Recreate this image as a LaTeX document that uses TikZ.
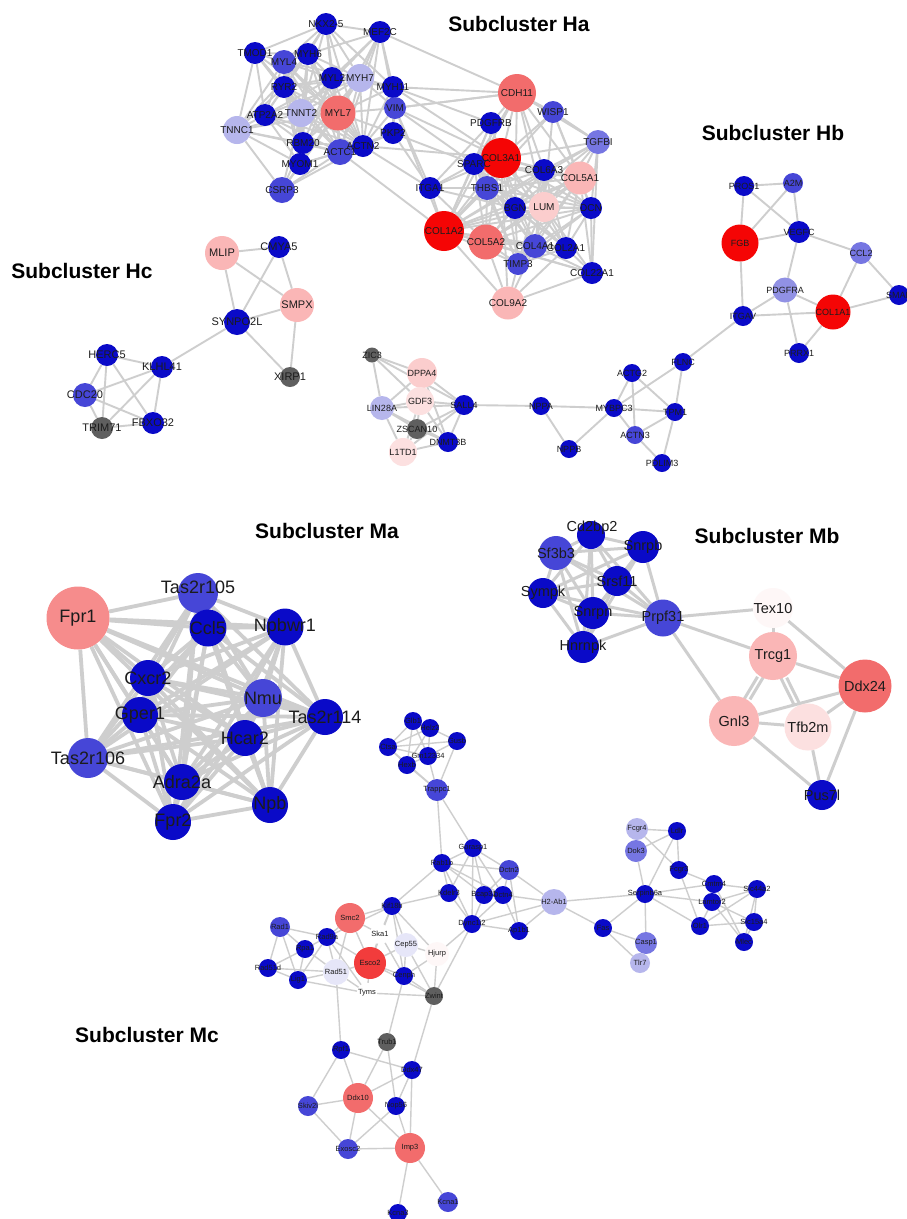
\documentclass[tikz,border=0pt]{standalone}
\usepackage{fontspec}
\setmainfont{Liberation Sans}
\pgfdeclarelayer{bg}
\pgfdeclarelayer{edges}
\pgfdeclarelayer{circles}
\pgfsetlayers{bg,edges,circles,main}
\definecolor{dblue}{RGB}{10,10,200}
\definecolor{mblue}{RGB}{70,70,215}
\definecolor{lblue}{RGB}{118,118,226}
\definecolor{lavb}{RGB}{145,145,228}
\definecolor{lav}{RGB}{182,182,236}
\definecolor{vlav}{RGB}{230,230,248}
\definecolor{red1}{RGB}{245,5,5}
\definecolor{red2}{RGB}{242,60,60}
\definecolor{salm}{RGB}{242,108,108}
\definecolor{pink1}{RGB}{246,140,140}
\definecolor{pink2}{RGB}{250,182,182}
\definecolor{pink3}{RGB}{251,205,205}
\definecolor{pink4}{RGB}{252,224,224}
\definecolor{wpink}{RGB}{254,247,247}
\definecolor{wnode}{RGB}{255,255,255}
\definecolor{gnode}{RGB}{95,95,95}
\definecolor{edgec}{RGB}{206,206,206}
\definecolor{txt}{RGB}{28,28,28}
\tikzset{
  gn/.style={circle,inner sep=0pt,draw=none},
  lab/.style={inner sep=0pt,text=txt},
  title/.style={inner sep=0pt,text=black,font=\bfseries\fontsize{21}{21}\selectfont},
  eHa/.style={draw=edgec,line width=1.9pt},
  eHb/.style={draw=edgec,line width=1.9pt},
  eMa/.style={draw=edgec,line width=3.8pt},
  eMb/.style={draw=edgec,line width=3pt},
  eMc/.style={draw=edgec,line width=1.4pt},
}
\newcommand\Gnode[8][0,0]{%
  \begin{pgfonlayer}{circles}\node[gn,minimum size=#5pt,fill=#6] (#2) at (#3,#4) {};\end{pgfonlayer}%
  \node[lab,font=\fontsize{#8}{#8}\selectfont,shift={(#1)}] at (#3,#4) {#7};}
\newcommand\hub[3][eHa]{\foreach \b in {#3} {\draw[#1] (#2)--(\b);}}
\newcommand\clique[2]{\foreach \a [count=\i] in {#1} {\foreach \b [count=\j] in {#1} {\ifnum\j>\i \draw[#2] (\a)--(\b);\fi}}}
\begin{document}
\begin{tikzpicture}[x=1pt,y=-1pt]
\begin{pgfonlayer}{bg}
\fill[white] (0,0) rectangle (907,1219);
\end{pgfonlayer}
\useasboundingbox (0,0) rectangle (907,1219);
% ---------------- titles
\node[title] (tHa) at (519,24) {Subcluster Ha};
\node[title] (tHb) at (773,133) {Subcluster Hb};
\node[title] (tHc) at (82,271) {Subcluster Hc};
\node[title] (tMa) at (327,531) {Subcluster Ma};
\node[title] (tMb) at (767,536) {Subcluster Mb};
\node[title] (tMc) at (147,1035) {Subcluster Mc};
% ---------------- Ha
\Gnode{NKX25}{326}{24}{22}{dblue}{NKX2-5}{10}
\Gnode{MEF2C}{380}{32}{22}{dblue}{MEF2C}{10}
\Gnode{TMOD1}{255}{53}{22}{dblue}{TMOD1}{10}
\Gnode{MYL4}{284}{62}{24}{mblue}{MYL4}{10}
\Gnode{MYH6}{308}{54}{22}{dblue}{MYH6}{10}
\Gnode{MYL2}{332}{78}{22}{dblue}{MYL2}{10}
\Gnode{MYH7}{360}{78}{28}{lav}{MYH7}{10}
\Gnode{RYR2}{284}{87}{22}{dblue}{RYR2}{10}
\Gnode{MYH11}{393}{87}{22}{dblue}{MYH11}{10}
\Gnode{ATP2A2}{265}{115}{22}{dblue}{ATP2A2}{10}
\Gnode{TNNT2}{301}{113}{28}{lav}{TNNT2}{10}
\Gnode{MYL7}{338}{113}{35}{salm}{MYL7}{10}
\Gnode{VIM}{395}{108}{22}{mblue}{VIM}{10}
\Gnode{TNNC1}{237}{130}{28}{lav}{TNNC1}{10}
\Gnode{PKP2}{393}{133}{22}{dblue}{PKP2}{10}
\Gnode{RBM20}{303}{143}{22}{dblue}{RBM20}{10}
\Gnode{ACTN2}{363}{146}{22}{dblue}{ACTN2}{10}
\Gnode{ACTC1}{340}{152}{26}{mblue}{ACTC1}{10}
\Gnode{MYOM1}{300}{164}{22}{dblue}{MYOM1}{10}
\Gnode{CSRP3}{282}{190}{26}{mblue}{CSRP3}{10}
\Gnode{CDH11}{517}{93}{38}{salm}{CDH11}{10}
\Gnode{WISP1}{553}{112}{22}{mblue}{WISP1}{10}
\Gnode{PDGFRB}{491}{123}{22}{dblue}{PDGFRB}{10}
\Gnode{TGFBI}{598}{142}{24}{lblue}{TGFBI}{10}
\Gnode{COL3A1}{501}{158}{40}{red1}{COL3A1}{10}
\Gnode{SPARC}{474}{164}{22}{dblue}{SPARC}{10}
\Gnode{COL6A3}{544}{170}{22}{dblue}{COL6A3}{10}
\Gnode{COL5A1}{580}{178}{33}{pink2}{COL5A1}{10}
\Gnode{ITGA1}{430}{188}{22}{dblue}{ITGA1}{10}
\Gnode{THBS1}{487}{188}{24}{mblue}{THBS1}{10}
\Gnode{BGN}{515}{208}{22}{dblue}{BGN}{10}
\Gnode{LUM}{544}{207}{30}{pink3}{LUM}{10}
\Gnode{DCN}{591}{208}{22}{dblue}{DCN}{10}
\Gnode{COL1A2}{444}{231}{40}{red1}{COL1A2}{10}
\Gnode{COL5A2}{486}{242}{35}{salm}{COL5A2}{10}
\Gnode{COL4A1}{535}{246}{24}{mblue}{COL4A1}{10}
\Gnode{COL2A1}{566}{248}{22}{dblue}{COL2A1}{10}
\Gnode{TIMP3}{518}{264}{22}{mblue}{TIMP3}{10}
\Gnode{COL22A1}{592}{273}{22}{dblue}{COL22A1}{10}
\Gnode{COL9A2}{508}{303}{33}{pink2}{COL9A2}{10}
% ---------------- Hb
\Gnode{PROS1}{744}{186}{20}{dblue}{PROS1}{9}
\Gnode{A2M}{793}{183}{20}{mblue}{A2M}{9}
\Gnode{FGB}{740}{243}{37}{red1}{FGB}{9}
\Gnode{VEGFC}{799}{232}{22}{dblue}{VEGFC}{9}
\Gnode{CCL2}{861}{253}{22}{lblue}{CCL2}{9}
\Gnode{PDGFRA}{785}{290}{25}{lavb}{PDGFRA}{9}
\Gnode{SMAD}{899}{295}{20}{dblue}{SMAD}{9}
\Gnode{ITGAV}{743}{316}{20}{dblue}{ITGAV}{9}
\Gnode{COL1A1}{833}{312}{35}{red1}{COL1A1}{9}
\Gnode{PRRX1}{799}{353}{20}{dblue}{PRRX1}{9}
\Gnode{FLNC}{683}{362}{18}{dblue}{FLNC}{9}
% ---------------- Hc
\Gnode{MLIP}{222}{253}{34}{pink2}{MLIP}{11}
\Gnode{CMYA5}{279}{247}{22}{dblue}{CMYA5}{11}
\Gnode{SMPX}{297}{305}{34}{pink2}{SMPX}{11}
\Gnode{SYNPO2L}{237}{322}{26}{dblue}{SYNPO2L}{11}
\Gnode{XIRP1}{290}{377}{20}{gnode}{XIRP1}{11}
\Gnode{HERC5}{107}{355}{22}{dblue}{HERC5}{11}
\Gnode{KLHL41}{162}{367}{22}{dblue}{KLHL41}{11}
\Gnode{CDC20}{85}{395}{24}{mblue}{CDC20}{11}
\Gnode{TRIM71}{102}{428}{22}{gnode}{TRIM71}{11}
\Gnode{FBXO32}{153}{423}{22}{dblue}{FBXO32}{11}
% ---------------- middle row
\Gnode{ZIC3}{372}{355}{15}{gnode}{ZIC3}{9}
\Gnode{DPPA4}{422}{373}{30}{pink3}{DPPA4}{9}
\Gnode{GDF3}{420}{401}{28}{pink4}{GDF3}{9}
\Gnode{LIN28A}{382}{408}{24}{lav}{LIN28A}{9}
\Gnode{SALL4}{464}{405}{20}{dblue}{SALL4}{9}
\Gnode{ZSCAN10}{417}{429}{20}{gnode}{ZSCAN10}{9}
\Gnode{DNMT3B}{448}{442}{20}{dblue}{DNMT3B}{9}
\Gnode{L1TD1}{403}{452}{28}{pink4}{L1TD1}{9}
\Gnode{NPPA}{541}{406}{18}{dblue}{NPPA}{9}
\Gnode{NPPB}{569}{449}{18}{dblue}{NPPB}{9}
\Gnode{MYBPC3}{614}{408}{18}{dblue}{MYBPC3}{9}
\Gnode{ACTG2}{632}{373}{18}{dblue}{ACTG2}{9}
\Gnode{TPM1}{675}{412}{18}{dblue}{TPM1}{9}
\Gnode{ACTN3}{635}{435}{18}{mblue}{ACTN3}{9}
\Gnode{PDLIM3}{662}{463}{18}{dblue}{PDLIM3}{9}
% ---------------- Ma
\Gnode{Fpr1}{78}{618}{63}{pink1}{Fpr1}{18}
\Gnode[0,-6]{Tas2r105}{198}{593}{40}{mblue}{Tas2r105}{18}
\Gnode{Ccl5}{208}{628}{37}{dblue}{Ccl5}{18}
\Gnode{Npbwr1}{285}{627}{37}{dblue}{Npbwr1}{18}
\Gnode{Cxcr2}{148}{678}{36}{dblue}{Cxcr2}{18}
\Gnode{Nmu}{263}{698}{38}{mblue}{Nmu}{18}
\Gnode{Gper1}{140}{715}{36}{dblue}{Gper1}{18}
\Gnode{Tas2r114}{325}{717}{36}{dblue}{Tas2r114}{18}
\Gnode{Hcar2}{245}{738}{36}{dblue}{Hcar2}{18}
\Gnode{Tas2r106}{88}{758}{40}{mblue}{Tas2r106}{18}
\Gnode{Adra2a}{182}{782}{36}{dblue}{Adra2a}{18}
\Gnode{Fpr2}{173}{822}{36}{dblue}{Fpr2}{18}
\Gnode{Npb}{270}{805}{36}{dblue}{Npb}{18}
% ---------------- Mb
\Gnode[1,-7]{Cd2bp2}{591}{535}{28}{dblue}{Cd2bp2}{14.5}
\Gnode{Sf3b3}{556}{553}{34}{mblue}{Sf3b3}{14.5}
\Gnode{Snrpb}{643}{547}{32}{dblue}{Snrpb}{14.5}
\Gnode{Srsf11}{617}{581}{30}{dblue}{Srsf11}{14.5}
\Gnode{Sympk}{543}{593}{30}{dblue}{Sympk}{14.5}
\Gnode{Snrpn}{593}{613}{32}{dblue}{Snrpn}{14.5}
\Gnode{Prpf31}{663}{618}{37}{mblue}{Prpf31}{14.5}
\Gnode{Hnrnpk}{583}{647}{32}{dblue}{Hnrnpk}{14.5}
\Gnode{Tex10}{773}{608}{40}{wpink}{Tex10}{14.5}
\Gnode{Trcg1}{773}{656}{48}{pink2}{Trcg1}{14.5}
\Gnode{Ddx24}{865}{686}{53}{salm}{Ddx24}{14.5}
\Gnode{Gnl3}{734}{721}{50}{pink2}{Gnl3}{14.5}
\Gnode{Tfb2m}{808}{727}{47}{pink4}{Tfb2m}{14.5}
\Gnode{Pus7l}{822}{795}{30}{dblue}{Pus7l}{14.5}
% ---------------- Mc
\Gnode{Glb1}{413}{721}{18}{dblue}{Glb1}{7.5}
\Gnode{Helz2}{430}{728}{18}{dblue}{Helz2}{7.5}
\Gnode{Gusb}{457}{741}{18}{dblue}{Gusb}{7.5}
\Gnode{Ctsa}{388}{747}{18}{dblue}{Ctsa}{7.5}
\Gnode{Gm12334}{428}{756}{18}{dblue}{Gm12334}{7.5}
\Gnode{Hexb}{407}{765}{18}{dblue}{Hexb}{7.5}
\Gnode{Trappc1}{437}{790}{22}{mblue}{Trappc1}{7.5}
\Gnode{Gorasp1}{473}{848}{18}{dblue}{Gorasp1}{7.5}
\Gnode{Rab1b}{442}{863}{18}{dblue}{Rab1b}{7.5}
\Gnode{Dctn2}{509}{870}{20}{mblue}{Dctn2}{7.5}
\Gnode{Kdelr3}{449}{893}{18}{dblue}{Kdelr3}{7.5}
\Gnode{Bcap31}{484}{895}{18}{dblue}{Bcap31}{7.5}
\Gnode{Dctn4}{503}{895}{18}{dblue}{Dctn4}{7.5}
\Gnode{H2Ab1}{554}{902}{26}{lav}{H2-Ab1}{7.5}
\Gnode{Kif18b}{392}{906}{18}{dblue}{Kif18b}{7.5}
\Gnode{Dync1i2}{472}{924}{18}{dblue}{Dync1i2}{7.5}
\Gnode{Ap1b1}{519}{931}{18}{dblue}{Ap1b1}{7.5}
\Gnode{Ska1}{380}{934}{20}{wnode}{Ska1}{7.5}
\Gnode{Cep55}{406}{945}{24}{vlav}{Cep55}{7.5}
\Gnode{Hjurp}{437}{954}{24}{wpink}{Hjurp}{7.5}
\Gnode{Rad1}{280}{927}{20}{mblue}{Rad1}{7.5}
\Gnode{Smc2}{350}{918}{30}{salm}{Smc2}{7.5}
\Gnode{Rad9a}{327}{937}{18}{dblue}{Rad9a}{7.5}
\Gnode{Rpa1}{305}{949}{18}{dblue}{Rpa1}{7.5}
\Gnode{Rad51d}{268}{968}{18}{dblue}{Rad51d}{7.5}
\Gnode{Lig1}{298}{980}{18}{dblue}{Lig1}{7.5}
\Gnode{Rad51}{336}{972}{26}{vlav}{Rad51}{7.5}
\Gnode{Esco2}{370}{963}{32}{red2}{Esco2}{7.5}
\Gnode{Cenph}{404}{976}{18}{dblue}{Cenph}{7.5}
\Gnode{Tyms}{367}{993}{20}{wnode}{Tyms}{7.5}
\Gnode{Zwint}{434}{996}{18}{gnode}{Zwint}{7.5}
\Gnode{Rpf1}{341}{1050}{18}{dblue}{Rpf1}{7.5}
\Gnode{Trub1}{387}{1042}{18}{gnode}{Trub1}{7.5}
\Gnode{Ddx47}{412}{1070}{18}{dblue}{Ddx47}{7.5}
\Gnode{Skiv2l}{308}{1106}{20}{mblue}{Skiv2l}{7.5}
\Gnode{Ddx10}{358}{1098}{30}{salm}{Ddx10}{7.5}
\Gnode{Nop56}{396}{1106}{18}{dblue}{Nop56}{7.5}
\Gnode{Exosc2}{348}{1149}{20}{mblue}{Exosc2}{7.5}
\Gnode{Imp3}{410}{1148}{30}{salm}{Imp3}{7.5}
\Gnode{Kcna1}{448}{1202}{20}{mblue}{Kcna1}{7.5}
\Gnode{Kcna3}{398}{1213}{18}{dblue}{Kcna3}{7.5}
\Gnode{Fcgr4}{637}{829}{22}{lav}{Fcgr4}{7.5}
\Gnode{Ldlr}{677}{831}{18}{dblue}{Ldlr}{7.5}
\Gnode{Dok3}{636}{851}{22}{lblue}{Dok3}{7.5}
\Gnode{Fcgr3}{679}{870}{18}{dblue}{Fcgr3}{7.5}
\Gnode{Serpinb6a}{645}{894}{18}{dblue}{Serpinb6a}{7.5}
\Gnode{Cmtm4}{714}{884}{18}{dblue}{Cmtm4}{7.5}
\Gnode{Lamtor2}{712}{902}{18}{dblue}{Lamtor2}{7.5}
\Gnode{Slc44a2}{757}{889}{18}{dblue}{Slc44a2}{7.5}
\Gnode{Slc15a4}{754}{922}{18}{dblue}{Slc15a4}{7.5}
\Gnode{Olr1}{700}{926}{18}{dblue}{Olr1}{7.5}
\Gnode{Mlec}{744}{942}{18}{dblue}{Mlec}{7.5}
\Gnode{Fas}{603}{928}{18}{dblue}{Fas}{7.5}
\Gnode{Casp1}{646}{943}{22}{lblue}{Casp1}{7.5}
\Gnode{Tlr7}{640}{963}{20}{lav}{Tlr7}{7.5}
% ================= edges
\begin{pgfonlayer}{edges}
% Ha cardiac
\clique{MYL4,MYH6,MYL2,MYH7,RYR2,ATP2A2,TNNT2,MYL7,ACTC1,ACTN2,RBM20,MYOM1}{eHa}
\hub{NKX25}{MYL4,MYH6,MYL2,MYH7,MEF2C,MYL7,TNNT2,ACTC1,MYH11,RYR2,TMOD1,ACTN2}
\hub{MEF2C}{MYH6,MYL2,MYH7,MYH11,MYL7,VIM,ACTC1,ACTN2,CDH11,TNNT2}
\hub{TMOD1}{MYL4,RYR2,ATP2A2,TNNT2,MYL7,TNNC1,MYH6,ACTC1}
\hub{MYH11}{VIM,MYL7,MYH7,ACTN2,PKP2,CDH11,PDGFRB,COL3A1,MYL2}
\hub{VIM}{MYL7,PKP2,ACTN2,CDH11,COL3A1,SPARC,ITGA1,MYH7,COL1A2}
\hub{PKP2}{ACTN2,MYL7,ACTC1,ITGA1,SPARC}
\hub{TNNC1}{ATP2A2,TNNT2,MYL7,RBM20,ACTC1,CSRP3,MYOM1,RYR2,MYH6,MYL4}
\hub{CSRP3}{MYOM1,RBM20,ACTC1,TNNT2,ACTN2,MYL7}
\hub{ACTC1}{COL1A2}
\hub{ACTN2}{ITGA1,COL3A1}
% Ha collagen
\clique{COL3A1,COL1A2,COL5A1,COL5A2,LUM,BGN,DCN,COL6A3,COL4A1,COL2A1,THBS1,SPARC,TIMP3}{eHa}
\hub{CDH11}{COL3A1,COL1A2,COL5A1,WISP1,PDGFRB,SPARC,LUM,BGN,COL6A3,TGFBI,VIM}
\hub{WISP1}{COL3A1,COL1A2,COL5A1,LUM,DCN,TGFBI}
\hub{PDGFRB}{COL3A1,COL1A2,SPARC,ITGA1,THBS1}
\hub{TGFBI}{COL3A1,COL5A1,COL1A2,DCN,LUM,BGN,COL22A1,COL6A3}
\hub{ITGA1}{COL1A2,COL3A1,COL5A2,THBS1,SPARC,BGN}
\hub{COL22A1}{COL1A2,COL5A1,COL2A1,COL4A1,DCN,LUM,COL9A2,COL5A2}
\hub{COL9A2}{COL1A2,COL5A2,COL2A1,TIMP3,COL4A1,COL3A1}
% Hb
\hub[eHb]{PROS1}{A2M,FGB,VEGFC}
\hub[eHb]{A2M}{FGB,VEGFC}
\hub[eHb]{FGB}{VEGFC,ITGAV}
\hub[eHb]{VEGFC}{CCL2,PDGFRA}
\hub[eHb]{CCL2}{COL1A1,SMAD}
\hub[eHb]{COL1A1}{SMAD,PDGFRA,ITGAV,PRRX1}
\hub[eHb]{PDGFRA}{ITGAV,PRRX1}
\hub[eHb]{ITGAV}{FLNC}
% Hc
\hub[eHb]{MLIP}{CMYA5,SMPX,SYNPO2L}
\hub[eHb]{CMYA5}{SYNPO2L,SMPX}
\hub[eHb]{SYNPO2L}{SMPX,XIRP1,KLHL41}
\hub[eHb]{SMPX}{XIRP1}
\clique{HERC5,KLHL41,CDC20,TRIM71,FBXO32}{eHb}
% middle row
\hub[eHb]{ZIC3}{DPPA4,LIN28A,GDF3,SALL4}
\hub[eHb]{DPPA4}{GDF3,SALL4,LIN28A,DNMT3B}
\hub[eHb]{LIN28A}{GDF3,SALL4,L1TD1,ZSCAN10,DNMT3B}
\hub[eHb]{GDF3}{SALL4,ZSCAN10,L1TD1,DNMT3B}
\hub[eHb]{SALL4}{ZSCAN10,DNMT3B,L1TD1,NPPA}
\hub[eHb]{ZSCAN10}{L1TD1,DNMT3B}
\hub[eHb]{L1TD1}{DNMT3B}
\hub[eHb]{NPPA}{MYBPC3,NPPB}
\hub[eHb]{NPPB}{MYBPC3}
\hub[eHb]{MYBPC3}{FLNC,ACTG2,TPM1,ACTN3}
\hub[eHb]{ACTG2}{ACTN3,TPM1}
\hub[eHb]{FLNC}{TPM1}
\hub[eHb]{TPM1}{ACTN3,PDLIM3}
\hub[eHb]{ACTN3}{PDLIM3}
% Ma
\clique{Fpr1,Tas2r105,Ccl5,Npbwr1,Cxcr2,Nmu,Gper1,Tas2r114,Hcar2,Tas2r106,Adra2a,Fpr2,Npb}{eMa}
% Mb
\clique{Cd2bp2,Sf3b3,Snrpb,Srsf11,Sympk,Snrpn,Prpf31,Hnrnpk}{eMb}
\hub[eMb]{Prpf31}{Tex10,Trcg1,Gnl3}
\hub[eMb]{Tex10}{Ddx24,Trcg1}
\hub[eMb]{Trcg1}{Ddx24}
\draw[eMb,transform canvas={xshift=-3pt}] (Trcg1)--(Gnl3);
\draw[eMb,transform canvas={xshift=3pt}] (Trcg1)--(Gnl3);
\draw[eMb,transform canvas={xshift=-3pt}] (Trcg1)--(Tfb2m);
\draw[eMb,transform canvas={xshift=3pt}] (Trcg1)--(Tfb2m);
\hub[eMb]{Gnl3}{Ddx24,Tfb2m,Pus7l}
\hub[eMb]{Tfb2m}{Ddx24,Pus7l}
\hub[eMb]{Ddx24}{Pus7l}
% Mc top
\hub[eMc]{Glb1}{Helz2,Ctsa,Gm12334,Hexb}
\hub[eMc]{Helz2}{Gusb,Ctsa,Gm12334,Hexb}
\hub[eMc]{Gusb}{Gm12334,Ctsa,Trappc1}
\hub[eMc]{Ctsa}{Gm12334,Hexb,Trappc1}
\hub[eMc]{Gm12334}{Hexb,Trappc1}
\hub[eMc]{Hexb}{Trappc1}
\hub[eMc]{Trappc1}{Rab1b,Gorasp1}
% Mc middle
\hub[eMc]{Gorasp1}{Rab1b,Dctn2,Kdelr3,Bcap31,Dctn4,Dync1i2}
\hub[eMc]{Rab1b}{Kdelr3,Kif18b,Dync1i2,Dctn2,Bcap31,Dctn4}
\hub[eMc]{Dctn2}{Bcap31,Dctn4,H2Ab1,Ap1b1}
\hub[eMc]{Kdelr3}{Kif18b,Dync1i2}
\hub[eMc]{Bcap31}{Dync1i2,Dctn4}
\hub[eMc]{Dctn4}{Dync1i2,Ap1b1,H2Ab1}
\hub[eMc]{Dync1i2}{H2Ab1,Ap1b1,Hjurp,Zwint}
\hub[eMc]{Ap1b1}{H2Ab1}
\hub[eMc]{H2Ab1}{Serpinb6a,Fas}
\hub[eMc]{Kif18b}{Ska1,Cep55,Smc2,Rad9a,Esco2,Cenph,Hjurp}
% Mc left
\hub[eMc]{Smc2}{Rad9a,Esco2,Rad51,Ska1}
\hub[eMc]{Rad1}{Rad9a,Rad51d,Rpa1,Lig1}
\hub[eMc]{Rad9a}{Rpa1,Rad51,Esco2,Lig1,Tyms}
\hub[eMc]{Rpa1}{Rad51d,Lig1,Rad51}
\hub[eMc]{Rad51d}{Rad51,Lig1}
\hub[eMc]{Lig1}{Rad51,Tyms}
\hub[eMc]{Rad51}{Esco2,Tyms,Rpf1}
\hub[eMc]{Esco2}{Cenph,Cep55,Tyms,Zwint,Ska1}
\hub[eMc]{Cep55}{Hjurp,Cenph,Zwint}
\hub[eMc]{Cenph}{Hjurp,Zwint,Ska1,Trub1}
\hub[eMc]{Hjurp}{Zwint}
\hub[eMc]{Tyms}{Zwint}
\hub[eMc]{Zwint}{Ddx47}
% Mc bottom
\hub[eMc]{Rpf1}{Ddx47,Ddx10,Skiv2l}
\hub[eMc]{Trub1}{Ddx10,Nop56}
\hub[eMc]{Ddx47}{Ddx10,Nop56,Imp3}
\hub[eMc]{Skiv2l}{Ddx10,Exosc2}
\hub[eMc]{Ddx10}{Exosc2,Imp3}
\hub[eMc]{Nop56}{Exosc2,Imp3}
\hub[eMc]{Exosc2}{Imp3}
\hub[eMc]{Imp3}{Kcna1,Kcna3}
% Mc right
\hub[eMc]{Fcgr4}{Ldlr,Fcgr3}
\hub[eMc]{Ldlr}{Dok3,Fcgr3,Serpinb6a}
\hub[eMc]{Dok3}{Serpinb6a}
\hub[eMc]{Fcgr3}{Cmtm4,Olr1}
\hub[eMc]{Serpinb6a}{Cmtm4,Lamtor2,Olr1,Fas,Casp1}
\hub[eMc]{Fas}{Casp1,Tlr7}
\hub[eMc]{Cmtm4}{Slc44a2,Lamtor2,Mlec}
\hub[eMc]{Lamtor2}{Slc44a2,Slc15a4,Olr1,Mlec}
\hub[eMc]{Slc44a2}{Slc15a4,Mlec,Olr1}
\hub[eMc]{Slc15a4}{Olr1,Mlec}
\end{pgfonlayer}
\end{tikzpicture}
\end{document}
